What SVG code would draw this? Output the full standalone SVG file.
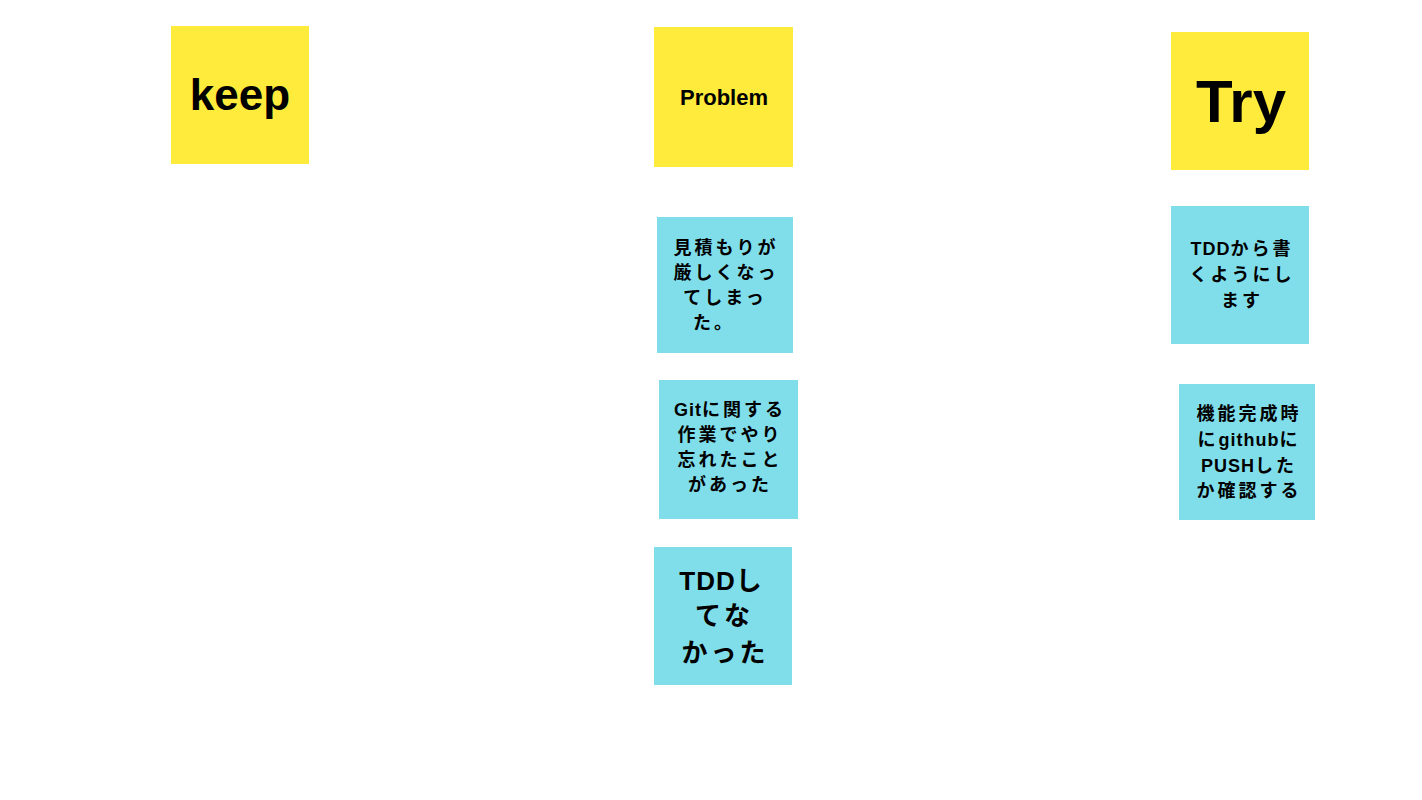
<svg xmlns="http://www.w3.org/2000/svg" width="1422" height="800" viewBox="0 0 1422 800">
<style>
.bg{fill:#ffffff}
.y{fill:#FFEB3B}
.b{fill:#80DEEA}
text{font-family:"Liberation Sans","Noto Sans CJK JP",sans-serif;font-weight:bold;fill:#000;text-anchor:middle}
.s{font-size:18px;letter-spacing:3px}
.m{font-size:26px;letter-spacing:3px}
.l{letter-spacing:1px}
</style>
<rect class="bg" x="0" y="0" width="1422" height="800"/>
<g id="keep">
<rect class="y" x="171" y="26" width="138" height="138"/>
<text x="240" y="110" style="font-size:44px">keep</text>
</g>
<g id="problem">
<rect class="y" x="654" y="27" width="139" height="140"/>
<text x="724" y="105" style="font-size:22px">Problem</text>
</g>
<g id="try">
<rect class="y" x="1171" y="32" width="138" height="138"/>
<text x="1241" y="122" style="font-size:60px">Try</text>
</g>
<g id="p1">
<rect class="b" x="657" y="217" width="136" height="136"/>
<text class="s" x="726" y="254">見積もりが</text>
<text class="s" x="726" y="279">厳しくなっ</text>
<text class="s" x="725" y="304">てしまっ</text>
<text class="s" x="714" y="329">た。</text>
</g>
<g id="p2">
<rect class="b" x="659" y="380" width="139" height="139"/>
<text class="s" x="730" y="416"><tspan class="l">Git</tspan>に関する</text>
<text class="s" x="730" y="441">作業でやり</text>
<text class="s" x="730" y="466">忘れたこと</text>
<text class="s" x="730" y="491">があった</text>
</g>
<g id="p3">
<rect class="b" x="654" y="547" width="138" height="138"/>
<text class="m" x="722" y="590"><tspan class="l">TDD</tspan>し</text>
<text class="m" x="724" y="625">てな</text>
<text class="m" x="725" y="662">かった</text>
</g>
<g id="t1">
<rect class="b" x="1171" y="206" width="138" height="138"/>
<text class="s" x="1242" y="255"><tspan class="l">TDD</tspan>から書</text>
<text class="s" x="1242" y="281">くようにし</text>
<text class="s" x="1242" y="307">ます</text>
</g>
<g id="t2">
<rect class="b" x="1179" y="384" width="136" height="136"/>
<text class="s" x="1249" y="420">機能完成時</text>
<text class="s" x="1249" y="446">に<tspan class="l">github</tspan>に</text>
<text class="s" x="1249" y="472"><tspan class="l">PUSH</tspan>した</text>
<text class="s" x="1249" y="497">か確認する</text>
</g>
</svg>
